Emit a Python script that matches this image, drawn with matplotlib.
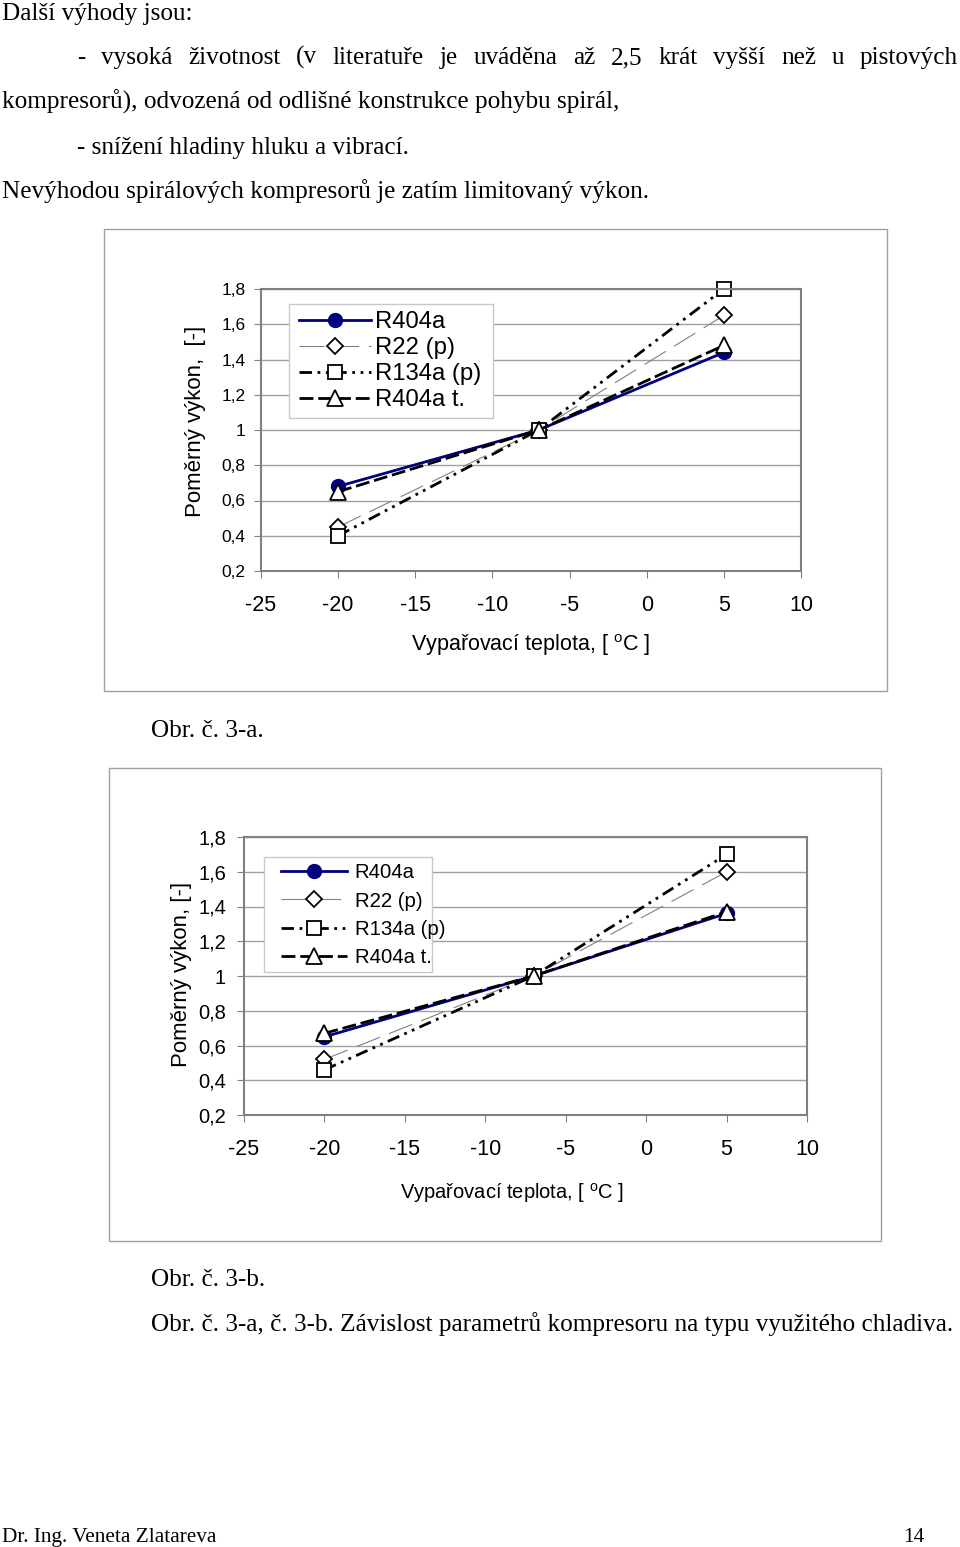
import matplotlib
matplotlib.use('Agg')
import matplotlib.pyplot as plt
from matplotlib.patches import Rectangle

W, H = 960, 1547

# hodnoty odečtené z grafů
temps = [-20, -7, 5]
series_names = ['R404a', 'R22 (p)', 'R134a (p)', 'R404a t.']

a_r404a = [0.68, 1.0, 1.44]
a_r22 = [0.45, 1.0, 1.65]
a_r134a = [0.40, 1.0, 1.80]
a_r404a_t = [0.65, 1.0, 1.48]

b_r404a = [0.65, 1.0, 1.36]
b_r22 = [0.52, 1.0, 1.60]
b_r134a = [0.46, 1.0, 1.70]
b_r404a_t = [0.67, 1.0, 1.37]

x_ticks = [-25, -20, -15, -10, -5, 0, 5, 10]
y_ticks = [0.2, 0.4, 0.6, 0.8, 1.0, 1.2, 1.4, 1.6, 1.8]
y_tick_labels = ['0,2', '0,4', '0,6', '0,8', '1', '1,2', '1,4', '1,6', '1,8']

SERIF = 'Liberation Serif'
SANS = 'Liberation Sans'

plt.rcParams['lines.scale_dashes'] = False
plt.rcParams['mathtext.fontset'] = 'custom'
plt.rcParams['mathtext.rm'] = SANS

fig = plt.figure(figsize=(W / 100, H / 100), dpi=100)


def fx(px):
    return px / W


def fy(py):
    return 1 - py / H


def px_box(x0, y0, x1, y1):
    return [x0 / W, 1 - y1 / H, (x1 - x0) / W, (y1 - y0) / H]


def page_text(x, y, s, size=18.2, **kw):
    fig.text(fx(x), fy(y), s, family=SERIF, fontsize=size, va='baseline', **kw)


def justified(words, x0, x1, y, size=18.2):
    texts = [fig.text(0, fy(y), w, family=SERIF, fontsize=size, va='baseline') for w in words]
    r = fig.canvas.get_renderer()
    widths = [t.get_window_extent(r).width for t in texts]
    gap = (x1 - x0 - sum(widths)) / (len(words) - 1)
    x = x0
    for t, w in zip(texts, widths):
        t.set_x(fx(x))
        x += w + gap


# text stránky
page_text(2, 20, 'Další výhody jsou:')
justified('- vysoká životnost (v literatuře je uváděna až 2,5 krát vyšší než u pistových'.split(),
          77, 958, 64)
page_text(2, 109, 'kompresorů), odvozená od odlišné konstrukce pohybu spirál,')
page_text(77, 154, '- snížení hladiny hluku a vibrací.')
page_text(2, 198, 'Nevýhodou spirálových kompresorů je zatím limitovaný výkon.')
page_text(151, 737, 'Obr. č. 3-a.')
page_text(151, 1286, 'Obr. č. 3-b.')
page_text(151, 1331, 'Obr. č. 3-a, č. 3-b. Závislost parametrů kompresoru na typu využitého chladiva.')
page_text(2, 1542, 'Dr. Ing. Veneta Zlatareva', size=15.3)
page_text(903, 1542, '14', size=15.3)

styles = [
    dict(color='#000080', lw=2.0, ls='-', marker='o', ms=10, mfc='#000080', mec='#000080'),
    dict(color='#808080', lw=0.8, ls=(0, (18, 7)), marker='D', ms=8, mfc='white', mec='black',
         mew=1.3),
    dict(color='black', lw=2.0, ls=(0, (9, 4, 2, 4, 2, 4)), marker='s', ms=10,
         mfc='white', mec='black', mew=1.3),
    dict(color='black', lw=2.0, ls=(0, (10, 3.5)), marker='^', ms=11, mfc='white', mec='black',
         mew=1.3),
]


def draw_chart(frame, plot, series, fs_tick_x, fs_tick_y, ypad, ylabel, ylabel_pos,
               fs_ylabel, xlabel_pos, fs_xlabel, legend_box, legend_anchor, fs_leg, leg_kw):
    fig.patches.append(Rectangle((fx(frame[0]), fy(frame[3])), fx(frame[2] - frame[0]),
                                 (frame[3] - frame[1]) / H, transform=fig.transFigure,
                                 fill=False, ec='#a0a0a0', lw=1))
    ax = fig.add_axes(px_box(*plot))
    handles = []
    for vals, name, st in zip(series, series_names, styles):
        ln, = ax.plot(temps, vals, label=name, clip_on=False, **st)
        handles.append(ln)
    ax.set_xlim(-25, 10)
    ax.set_ylim(0.2, 1.8)
    ax.set_xticks(x_ticks)
    ax.set_xticklabels([str(t) for t in x_ticks], family=SANS, fontsize=fs_tick_x)
    ax.set_yticks(y_ticks)
    ax.set_yticklabels(y_tick_labels, family=SANS, fontsize=fs_tick_y)
    ax.tick_params(axis='x', direction='out', length=5, color='#808080', pad=12)
    ax.tick_params(axis='y', direction='out', length=5, color='#808080', pad=ypad)
    ax.grid(axis='y', color='#a0a0a0', lw=1)
    ax.set_axisbelow(True)
    for sp in ax.spines.values():
        sp.set_color('#808080')
        sp.set_linewidth(1.5)
    fig.text(fx(ylabel_pos[0]), fy(ylabel_pos[1]), ylabel, rotation=90, ha='center', va='center',
             family=SANS, fontsize=fs_ylabel)
    fig.text(fx(xlabel_pos[0]), fy(xlabel_pos[1]), r'Vypařovací teplota, [ $^{\mathrm{o}}$C ]',
             ha='center', va='center', family=SANS, fontsize=fs_xlabel)
    # rámeček legendy
    lx0, ly0, lx1, ly1 = legend_box
    fig.patches.append(Rectangle((fx(lx0), fy(ly1)), fx(lx1 - lx0), (ly1 - ly0) / H,
                                 transform=fig.transFigure, fill=True, fc='white',
                                 ec='#c8c8c8', lw=1, zorder=5))
    leg = fig.legend(handles=handles, loc='upper left',
                     bbox_to_anchor=(fx(legend_anchor[0]), fy(legend_anchor[1])),
                     bbox_transform=fig.transFigure, frameon=False, numpoints=1,
                     prop={'family': SANS, 'size': fs_leg}, **leg_kw)
    leg.set_zorder(6)
    return ax


draw_chart((104, 229, 887, 691), (261, 289, 801, 571),
           [a_r404a, a_r22, a_r134a, a_r404a_t],
           15.5, 12.5, 6, 'Poměrný výkon,  [-]', (195, 421), 16, (531, 645), 15.5,
           (289, 304, 493, 418), (293, 305), 17.2,
           dict(borderaxespad=0, borderpad=0.25, handlelength=3.0, handletextpad=0.17,
                labelspacing=0.17))

draw_chart((109, 768, 881, 1241), (244, 837, 807, 1115),
           [b_r404a, b_r22, b_r134a, b_r404a_t],
           15.5, 14.5, 8, 'Poměrný výkon, [-]', (181, 974), 16, (512, 1193), 14.5,
           (264, 857, 432, 972), (275, 857), 14.7,
           dict(borderaxespad=0, borderpad=0.3, handlelength=3.25, handletextpad=0.35,
                labelspacing=0.46))

fig.savefig('out.png', dpi=100)
